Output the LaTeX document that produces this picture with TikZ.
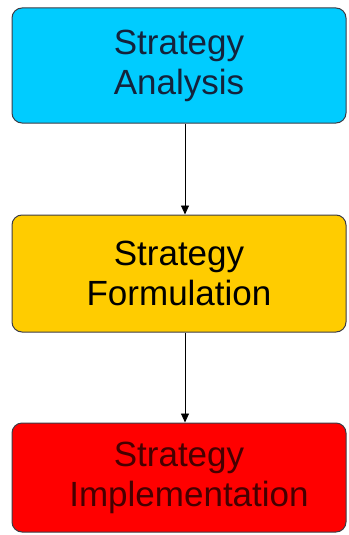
\documentclass[tikz,border=0pt]{standalone}
\usepackage{fontspec}
\setmainfont{Liberation Sans}
\usetikzlibrary{arrows.meta}
\definecolor{analysisblue}{RGB}{0,204,255}
\definecolor{formgold}{RGB}{255,204,0}
\definecolor{implred}{RGB}{255,0,0}
\definecolor{edgegray}{RGB}{60,60,70}
\begin{document}
\begin{tikzpicture}[x=1pt,y=-1pt,
  stagebox/.style={draw=edgegray, line width=1pt, rounded corners=10pt,
    minimum width=334pt, align=center, inner sep=0pt,
    font=\fontsize{35}{40}\selectfont},
  flow/.style={draw=black, line width=0.9pt, -{Triangle[length=9pt,width=8pt]}}]
\useasboundingbox (0,0) rectangle (348,535);
\node[stagebox, fill=analysisblue, minimum height=115pt, text={rgb,255:red,20;green,35;blue,60}]
  (ana) at (179,65.5) {Strategy\\Analysis};
\node[stagebox, fill=formgold, minimum height=117pt, text=black]
  (form) at (179,273.5) {Strategy\\Formulation};
\node[stagebox, fill=implred, minimum height=109pt, text={rgb,255:red,70;green,0;blue,0}]
  (impl) at (179,477.5) {Strategy\\\hspace*{20pt}Implementation};
\draw[flow] ([xshift=6pt]ana.south) -- ([xshift=6pt]form.north);
\draw[flow] ([xshift=6pt]form.south) -- ([xshift=6pt]impl.north);
\end{tikzpicture}
\end{document}
